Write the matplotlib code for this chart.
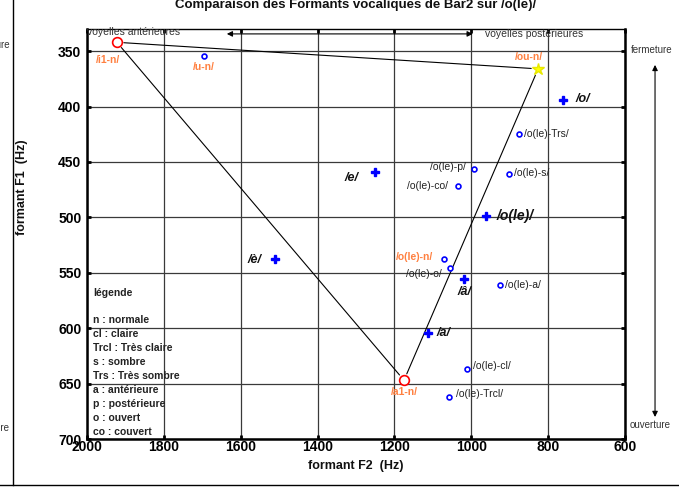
import matplotlib
matplotlib.use("Agg")
import matplotlib.pyplot as plt

plt.rcParams['font.family'] = ['Liberation Sans', 'DejaVu Sans']

# voyelles : nom, F2 (Hz), F1 (Hz), type de point
noms = ['/i1-n/', '/u-n/', '/ou-n/', '/o/', '/o(le)-Trs/', '/o(le)-p/', '/o(le)-s/',
        '/o(le)-co/', '/e/', '/o(le)/', '/è/', '/o(le)-n/', '/o(le)-o/', '/â/',
        '/o(le)-a/', '/a/', '/o(le)-cl/', '/a1-n/', '/o(le)-Trcl/']
f2 = [1922, 1696, 826, 761, 876, 993, 902, 1035, 1251, 962, 1511, 1071, 1055, 1019,
      925, 1113, 1011, 1175, 1058]
f1 = [342, 354, 366, 394, 425, 456, 461, 472, 459, 499, 538, 538, 546, 556,
      561, 604, 637, 647, 662]
types = ['ref', 'petit', 'jaune', 'moy', 'petit', 'petit', 'petit', 'petit', 'moy', 'moy',
         'moy', 'petit', 'petit', 'moy', 'petit', 'moy', 'petit', 'ref', 'petit']

# triangle vocalique
triangle = [('/i1-n/', '/ou-n/'), ('/i1-n/', '/a1-n/'), ('/a1-n/', '/ou-n/')]

legende = ['n : normale', 'cl : claire', 'Trcl : Très claire', 's : sombre',
           'Trs : Très sombre', 'a : antérieure', 'p : postérieure', 'o : ouvert',
           'co : couvert']

# position / style des etiquettes (decalage en points, alignement, style)
etiq = {
    '/i1-n/': (-6.5, -13, 'center', 'orange'),
    '/u-n/': (0, -8, 'center', 'orange'),
    '/ou-n/': (-6.5, 8.5, 'center', 'orange'),
    '/o/': (9, 1, 'left', 'gras'),
    '/o(le)-Trs/': (3.5, 0, 'left', 'normal'),
    '/o(le)-p/': (-6, 1.5, 'right', 'normal'),
    '/o(le)-s/': (3.5, 0.5, 'left', 'normal'),
    '/o(le)-co/': (-7, 0, 'right', 'normal'),
    '/e/': (-11.5, -4.5, 'right', 'gras'),
    '/o(le)/': (8, 0, 'left', 'gras+'),
    '/è/': (-10, -0.5, 'right', 'gras'),
    '/o(le)-n/': (-8, 1.5, 'right', 'orange'),
    '/o(le)-o/': (-6, -4, 'right', 'normal'),
    '/â/': (0, -9, 'center', 'gras'),
    '/o(le)-a/': (3.5, 0, 'left', 'normal'),
    '/a/': (6, -0.5, 'left', 'gras'),
    '/o(le)-cl/': (4.5, 2, 'left', 'normal'),
    '/a1-n/': (0, -8.5, 'center', 'orange'),
    '/o(le)-Trcl/': (5, 2, 'left', 'normal'),
}

fig = plt.figure(figsize=(6.79, 4.88), dpi=100)
ax = fig.add_axes([0.128, 0.1004, 0.7925, 0.8402])
ax.set_xlim(2000, 600)
ax.set_ylim(700, 330)
ax.set_xticks(range(2000, 599, -200))
ax.set_yticks(range(350, 701, 50))
ax.grid(True, color='#3a3a3a', lw=0.9)
ax.set_axisbelow(True)

for s in ['left', 'bottom', 'right']:
    ax.spines[s].set_linewidth(1.8)
ax.spines['top'].set_linewidth(1.0)
ax.tick_params(direction='in', length=3, width=2, top=True, right=True,
               labelsize=10, pad=4)
ax.tick_params(axis='x', pad=1)
for t in ax.get_xticklabels() + ax.get_yticklabels():
    t.set_fontweight('bold')

# triangle
idx = {n: i for i, n in enumerate(noms)}
for a, b in triangle:
    ax.annotate('', xy=(f2[idx[b]], f1[idx[b]]), xytext=(f2[idx[a]], f1[idx[a]]),
                arrowprops=dict(arrowstyle='-', color='black', lw=0.8,
                                shrinkA=5, shrinkB=5))

# points
for i in range(len(noms)):
    if types[i] == 'ref':
        ax.plot(f2[i], f1[i], 'o', ms=7, mfc='white', mec='red', mew=1.2, zorder=4)
    elif types[i] == 'petit':
        ax.plot(f2[i], f1[i], 'o', ms=3.5, mfc='white', mec='blue', mew=1.2, zorder=4)
    elif types[i] == 'moy':
        ax.plot(f2[i], f1[i], 'P', ms=5.5, color='blue', zorder=4)
    else:
        ax.plot(f2[i], f1[i], '*', ms=9, color='#ffff00', mec='#e8e800', zorder=4)

    dx, dy, ha, style = etiq[noms[i]]
    kw = dict(fontsize=7.5, color='#222222')
    if style == 'orange':
        kw = dict(fontsize=7.5, color='#ff8040', fontweight='bold')
    elif style == 'gras':
        kw = dict(fontsize=9, color='#111111', fontweight='bold', style='italic')
    elif style == 'gras+':
        kw = dict(fontsize=10, color='#111111', fontweight='bold', style='italic')
    ax.annotate(noms[i], (f2[i], f1[i]), xytext=(dx, dy), textcoords='offset points',
                ha=ha, va='center', zorder=5, **kw)

# legende
ax.text(0.012, 0.355, 'légende', transform=ax.transAxes, fontsize=7.5,
        fontweight='bold', va='center', color='#222222')
for k, txt in enumerate(legende):
    ax.text(0.012, 0.29 - k * 0.0342, txt, transform=ax.transAxes, fontsize=7.5,
            fontweight='bold', va='center', color='#222222')

# fleches anterieures / posterieures
ax.annotate('', xy=(0.26, 0.988), xytext=(0.717, 0.988), xycoords='axes fraction',
            arrowprops=dict(arrowstyle='<|-|>', color='black', lw=0.8,
                            mutation_scale=8, shrinkA=0, shrinkB=0))
ax.text(0.0, 0.993, 'voyelles antérieures', transform=ax.transAxes, fontsize=7.5,
        va='center', color='#333333')
ax.text(0.74, 0.988, 'voyelles postérieures', transform=ax.transAxes, fontsize=7.5,
        va='center', color='#333333')

# fleche fermeture / ouverture
ax.annotate('', xy=(0.9647, 0.867), xytext=(0.9647, 0.1455), xycoords='figure fraction',
            arrowprops=dict(arrowstyle='<|-|>', color='black', lw=0.8,
                            mutation_scale=8, shrinkA=0, shrinkB=0))
fig.text(0.929, 0.898, 'fermeture', fontsize=7, va='center', color='#333333')
fig.text(0.928, 0.129, 'ouverture', fontsize=7, va='center', color='#333333')
# textes coupes au bord gauche, comme dans l'original
fig.text(0.0147, 0.908, 'fermeture', fontsize=7, va='center', ha='right', color='#333333')
fig.text(0.0147, 0.123, 'ouverture', fontsize=7, va='center', ha='right', color='#333333')

# cadre exterieur
fig.add_artist(plt.Line2D([0.019, 0.019], [0.006, 1], transform=fig.transFigure,
                          color='black', lw=1))
fig.add_artist(plt.Line2D([0, 1], [0.006, 0.006], transform=fig.transFigure,
                          color='black', lw=1))

fig.text(0.524, 0.99, 'Comparaison des Formants vocaliques de Bar2 sur /o(le)/',
         ha='center', va='center', fontsize=9.5, fontweight='bold', color='#111111')
fig.text(0.524, 0.045, 'formant F2  (Hz)', ha='center', va='center', fontsize=9,
         fontweight='bold', color='#111111')
fig.text(0.032, 0.617, 'formant F1  (Hz)', ha='center', va='center', fontsize=9,
         fontweight='bold', rotation=90, color='#111111')

fig.savefig('out.png', dpi=100)
